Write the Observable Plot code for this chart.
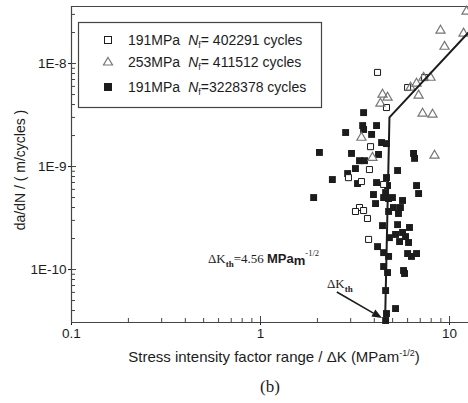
<!DOCTYPE html>
<html>
<head>
<meta charset="utf-8">
<script src="https://cdn.jsdelivr.net/npm/d3@7"></script>
<script src="https://cdn.jsdelivr.net/npm/@observablehq/plot@0.6"></script>
<style>
html,body{margin:0;padding:0;background:#fff;}
#chart svg{display:block;}
</style>
</head>
<body>
<div id="chart"></div>
<script>
// ---------------- data ----------------
// Series A: 191 MPa, Nf = 402291 cycles (open squares)
const sA_dK   = [4.16, 6.00, 7.38, 4.64, 3.82, 3.77, 2.92, 3.42, 4.48, 3.34, 3.51, 3.18, 3.68, 3.73];
const sA_rate = [8.2e-9, 5.85e-9, 7.3e-9, 3.74e-9, 1.56e-9, 9.35e-10, 7.8e-10, 7.15e-10, 6.7e-10, 4.0e-10, 3.74e-10, 3.66e-10, 3.13e-10, 1.96e-10];

// Series B: 253 MPa, Nf = 411512 cycles (open triangles)
const sB_dK   = [12.3, 8.96, 11.86, 9.41, 7.93, 7.29, 6.69, 6.22, 6.86, 4.42, 4.70, 4.31, 7.20, 8.13, 3.42, 3.91, 8.33];
const sB_rate = [3.2e-8, 2.09e-8, 1.96e-8, 1.46e-8, 7.3e-9, 7.3e-9, 6.4e-9, 5.85e-9, 4.9e-9, 5.0e-9, 4.68e-9, 4.09e-9, 3.27e-9, 3.2e-9, 1.91e-9, 1.22e-9, 1.28e-9];

// Series C: 191 MPa, Nf = 3228378 cycles (filled squares)
const sC_dK   = [3.51, 3.47, 3.51, 4.11, 2.82, 3.87, 4.37, 4.64, 2.05, 3.03,
                 4.21, 3.34, 3.55, 6.45, 6.53, 3.18, 5.31, 2.89, 2.40, 3.26,
                 4.11, 4.64, 4.70, 6.69, 6.86, 1.91, 3.96, 4.59, 4.76, 5.64,
                 5.50, 4.06, 4.48, 5.05, 5.37, 4.76, 4.42, 5.31, 6.14, 5.64,
                 4.81, 5.18, 5.85, 5.44, 6.07, 4.16, 4.48, 4.76, 6.00, 6.29,
                 6.69, 5.71, 5.78, 4.48, 4.70, 4.59, 5.18, 4.64, 4.59, 4.99];
const sC_rate = [3.34e-9, 2.5e-9, 2.29e-9, 2.5e-9, 2.14e-9, 2.05e-9, 1.71e-9, 1.67e-9, 1.37e-9, 1.34e-9,
                 1.31e-9, 1.14e-9, 1.14e-9, 1.34e-9, 1.2e-9, 9.56e-10, 9.15e-10, 8.55e-10, 7.48e-10, 6.84e-10,
                 6.99e-10, 7.82e-10, 6.54e-10, 6.54e-10, 5.47e-10, 5.0e-10, 5.35e-10, 5.59e-10, 4.89e-10, 4.68e-10,
                 4.0e-10, 4.37e-10, 5.0e-10, 4.0e-10, 3.5e-10, 3.66e-10, 2.67e-10, 2.73e-10, 2.56e-10, 2.29e-10,
                 2.04e-10, 2.19e-10, 2.09e-10, 1.87e-10, 1.83e-10, 1.67e-10, 1.46e-10, 1.34e-10, 1.43e-10, 1.34e-10,
                 1.43e-10, 9.78e-11, 9.15e-11, 1.07e-10, 9.35e-11, 6.25e-11, 4.18e-11, 3.74e-11, 3.2e-11, 5.0e-10];

// Fitted threshold line
const fit_dK   = [4.56, 4.81, 12.6];
const fit_rate = [3.06e-11, 3.0e-9, 2.0e-8];

// Legend text
const legendStress = ["191MPa", "253MPa", "191MPa"];
const legendCycles = ["= 402291 cycles", "= 411512 cycles", "=3228378 cycles"];

// Axes
const xDomain = [0.1, 12.6];
const yDomain = [3.06e-11, 3.58e-8];
const xMajor = [0.1, 1, 10];
const xMinor = [0.2, 0.3, 0.4, 0.5, 0.6, 0.7, 0.8, 0.9, 2, 3, 4, 5, 6, 7, 8, 9];
const yMajor = [1e-10, 1e-9, 1e-8];
const yMinor = [4e-11, 5e-11, 6e-11, 7e-11, 8e-11, 9e-11,
                2e-10, 3e-10, 4e-10, 5e-10, 6e-10, 7e-10, 8e-10, 9e-10,
                2e-9, 3e-9, 4e-9, 5e-9, 6e-9, 7e-9, 8e-9, 9e-9, 2e-8, 3e-8];

// Annotation anchors (data units)
const thTextAt = [0.53, 1.14e-10];
const thLabelAt = [2.26, 6.54e-11];
const arrowFrom = [2.55, 5.98e-11];
const arrowTo = [4.42, 3.34e-11];
const thValue = "4.56";

// ---------------- chart ----------------
const SANS = "'Liberation Sans', Arial, Helvetica, sans-serif";
const SERIF = "'Liberation Serif', 'Times New Roman', serif";
const INK = "#1c1c1c";
const AX = "#444";

const rows = (xs, ys) => xs.map((x, i) => ({dK: x, rate: ys[i]}));
const rowsA = rows(sA_dK, sA_rate);
const rowsB = rows(sB_dK, sB_rate);
const rowsC = rows(sC_dK, sC_rate);
const rowsFit = rows(fit_dK, fit_rate);

const plot = Plot.plot({
  width: 468,
  height: 403,
  marginLeft: 71,
  marginRight: 0,
  marginTop: 6,
  marginBottom: 81,
  style: {fontFamily: SANS, fontSize: "13.5px", color: INK, background: "#fff"},
  x: {type: "log", domain: xDomain},
  y: {type: "log", domain: yDomain},
  marks: [
    Plot.ruleX(xMinor, {stroke: AX, insetTop: 312}),
    Plot.ruleX(xMajor.slice(1), {stroke: AX, insetTop: 310}),
    Plot.ruleY(yMinor, {stroke: AX, insetRight: 393}),
    Plot.ruleY(yMajor, {stroke: AX, insetRight: 392}),
    Plot.axisX({ticks: xMajor, tickFormat: d => String(d), tickSize: 3, tickPadding: 3, label: null}),
    Plot.axisY({ticks: yMajor, tickFormat: d => "1E" + Math.round(Math.log10(d)), tickSize: 3, tickPadding: 2, label: null}),
    Plot.ruleY([yDomain[1]], {stroke: AX, strokeWidth: 1.2}),
    Plot.ruleX([xDomain[0]], {stroke: AX, strokeWidth: 1.2}),
    Plot.ruleY([yDomain[0]], {stroke: AX, strokeWidth: 1.2}),
    Plot.dot(rowsC, {x: "dK", y: "rate", symbol: "square", r: 3.9, fill: INK, stroke: null}),
    Plot.dot(rowsA, {x: "dK", y: "rate", symbol: "square", r: 3.4, fill: "#fff", stroke: INK, strokeWidth: 1}),
    Plot.dot(rowsB, {x: "dK", y: "rate", symbol: "triangle", r: 3.4, fill: "none", stroke: "#777", strokeWidth: 1.2}),
    Plot.line(rowsFit, {x: "dK", y: "rate", stroke: INK, strokeWidth: 2})
  ]
});
document.getElementById("chart").appendChild(plot);

const svg = d3.select(plot);
const sx = plot.scale("x"), sy = plot.scale("y");
const px = p => [sx.apply(p[0]), sy.apply(p[1])];

// Legend
const lg = svg.append("g").attr("font-family", SANS).attr("font-size", 14).attr("fill", INK).attr("text-anchor", "start");
lg.append("rect").attr("x", 78.5).attr("y", 22.5).attr("width", 243).attr("height", 85)
  .attr("fill", "#fff").attr("stroke", AX).attr("stroke-width", 1.2);
const rowY = [40, 62, 87];
rowY.forEach((cy, i) => {
  const cx = 108;
  if (i === 0) lg.append("rect").attr("x", cx - 3.5).attr("y", cy - 3.5).attr("width", 7).attr("height", 7).attr("fill", "#fff").attr("stroke", INK);
  if (i === 1) lg.append("path").attr("d", `M${cx},${cy - 4.5}L${cx + 4.5},${cy + 3}L${cx - 4.5},${cy + 3}Z`).attr("fill", "none").attr("stroke", "#777").attr("stroke-width", 1.2);
  if (i === 2) lg.append("rect").attr("x", cx - 4).attr("y", cy - 4).attr("width", 8).attr("height", 8).attr("fill", INK);
  const t = lg.append("text").attr("x", 128).attr("y", cy + 5).attr("text-anchor", "start");
  t.append("tspan").text(legendStress[i]);
  t.append("tspan").attr("dx", 8).attr("font-style", "italic").text("N");
  t.append("tspan").attr("font-size", 9).attr("dy", 3).text("f");
  t.append("tspan").attr("dy", -3).text(legendCycles[i]);
});

// Axis titles
svg.append("text").attr("font-family", SANS).attr("font-size", 14).attr("fill", INK)
  .attr("text-anchor", "middle").attr("transform", "translate(25,170) rotate(-90)")
  .text("da/dN / ( m/cycles )");
const xl = svg.append("text").attr("font-family", SANS).attr("font-size", 15).attr("fill", INK)
  .attr("text-anchor", "middle").attr("x", 274).attr("y", 362);
xl.append("tspan").text("Stress intensity factor range / \u0394K (MPam");
xl.append("tspan").attr("font-size", 9).attr("dy", -6).text("-1/2");
xl.append("tspan").attr("dy", 6).text(")");
svg.append("text").attr("font-family", SERIF).attr("font-size", 17).attr("fill", INK)
  .attr("text-anchor", "middle").attr("x", 270).attr("y", 392).text("(b)");

// Threshold annotation
const [tx, ty] = px(thTextAt);
const at = svg.append("text").attr("x", tx).attr("y", ty).attr("fill", INK).attr("text-anchor", "start")
  .attr("font-family", SERIF).attr("font-size", 13);
at.append("tspan").text("\u0394K");
at.append("tspan").attr("font-size", 9).attr("font-weight", "bold").attr("dy", 4).text("th");
at.append("tspan").attr("dy", -4).text("=" + thValue + " ");
at.append("tspan").attr("font-family", SANS).attr("font-weight", "bold").text("MPa");
at.append("tspan").attr("font-family", SANS).attr("font-weight", "bold").attr("dy", 2).text("m");
at.append("tspan").attr("font-size", 8.5).attr("dy", -9).text("-1/2");

const [lx, ly] = px(thLabelAt);
const al = svg.append("text").attr("x", lx).attr("y", ly).attr("fill", INK).attr("text-anchor", "start")
  .attr("font-family", SERIF).attr("font-size", 13);
al.append("tspan").text("\u0394K");
al.append("tspan").attr("font-size", 9).attr("font-weight", "bold").attr("dy", 4).text("th");

// Arrow
const [ax1, ay1] = px(arrowFrom), [ax2, ay2] = px(arrowTo);
const ang = Math.atan2(ay2 - ay1, ax2 - ax1), hl = 10, hw = 4;
const bx = ax2 - hl * Math.cos(ang), by = ay2 - hl * Math.sin(ang);
svg.append("line").attr("x1", ax1).attr("y1", ay1).attr("x2", bx).attr("y2", by).attr("stroke", INK).attr("stroke-width", 1.6);
svg.append("path").attr("fill", INK).attr("d",
  `M${ax2},${ay2}L${bx - hw * Math.sin(ang)},${by + hw * Math.cos(ang)}L${bx + hw * Math.sin(ang)},${by - hw * Math.cos(ang)}Z`);
</script>
</body>
</html>
